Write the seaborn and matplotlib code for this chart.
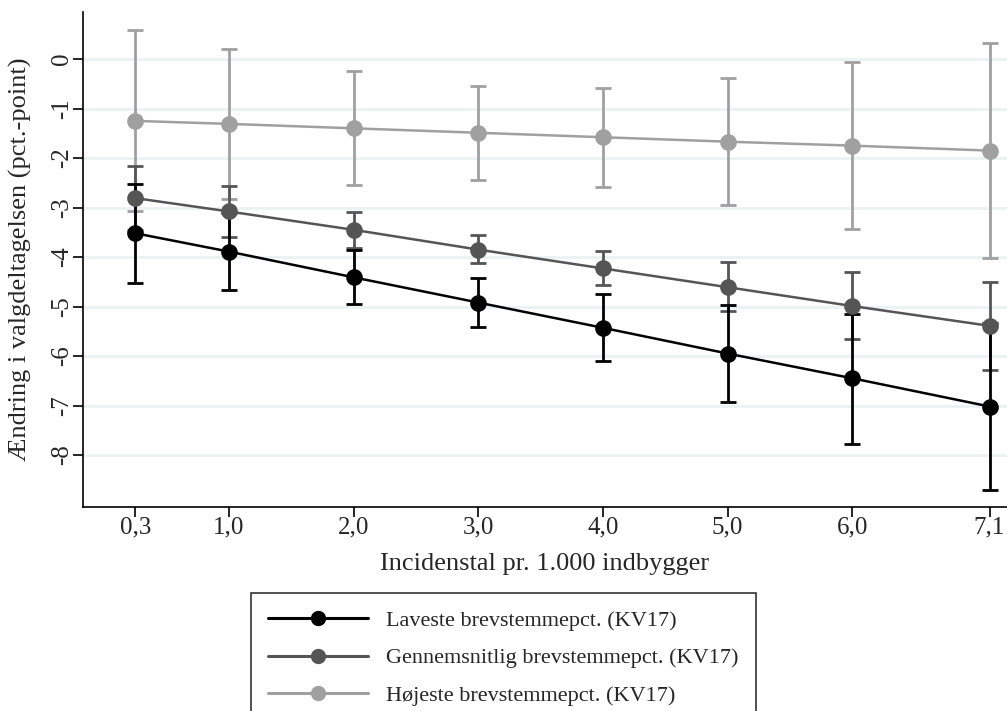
import numpy as np
import pandas as pd
import seaborn as sns
import matplotlib.pyplot as plt

# incidence per 1,000 inhabitants (tick labels rounded to one decimal)
x_vals = [0.25, 1.0, 2.0, 3.0, 4.0, 5.0, 6.0, 7.1]
x_labels = ["0,3", "1,0", "2,0", "3,0", "4,0", "5,0", "6,0", "7,1"]

groups = ["Laveste brevstemmepct. (KV17)",
          "Gennemsnitlig brevstemmepct. (KV17)",
          "Højeste brevstemmepct. (KV17)"]

# point estimates
low_est = [-3.52, -3.89, -4.41, -4.92, -5.43, -5.95, -6.45, -7.02]
mid_est = [-2.81, -3.08, -3.45, -3.85, -4.23, -4.61, -4.99, -5.39]
high_est = [-1.25, -1.31, -1.40, -1.49, -1.58, -1.67, -1.75, -1.85]

# confidence intervals (lower, upper)
low_lo = [-4.52, -4.67, -4.95, -5.41, -6.11, -6.92, -7.77, -8.71]
low_hi = [-2.53, -3.11, -3.86, -4.43, -4.75, -4.97, -5.15, -5.33]
mid_lo = [-3.46, -3.60, -3.82, -4.13, -4.57, -5.09, -5.66, -6.28]
mid_hi = [-2.16, -2.57, -3.10, -3.56, -3.88, -4.11, -4.31, -4.51]
high_lo = [-3.08, -2.83, -2.55, -2.44, -2.58, -2.94, -3.43, -4.01]
high_hi = [0.59, 0.21, -0.24, -0.55, -0.58, -0.39, -0.07, 0.32]

colors = ["#000000", "#555555", "#a0a0a0"]

df = pd.DataFrame({
    "x": x_vals * 3,
    "est": low_est + mid_est + high_est,
    "lo": low_lo + mid_lo + high_lo,
    "hi": low_hi + mid_hi + high_hi,
    "group": [g for g in groups for _ in x_vals],
})

sns.set_style("white")
plt.rcParams["font.family"] = ["Liberation Serif", "DejaVu Serif"]

fig = plt.figure(figsize=(10.07, 7.11), dpi=100)
ax = fig.add_axes([83 / 1007, 1 - 507 / 711, 1 - 83 / 1007, (507 - 12) / 711])

# draw lightest group first so black ends on top
for g, c, z in zip(groups[::-1], colors[::-1], [3, 4, 5]):
    d = df[df["group"] == g]
    ax.errorbar(d["x"], d["est"], yerr=[d["est"] - d["lo"], d["hi"] - d["est"]],
                fmt="none", ecolor=c, elinewidth=2, capsize=6, capthick=2, zorder=z)

sns.lineplot(data=df, x="x", y="est", hue="group", hue_order=groups,
             palette=colors, marker="o", markersize=12, markeredgewidth=0,
             linewidth=1.8, ax=ax, legend=False, zorder=6)

ax.set_xlim(-0.17, 7.24)
ax.set_ylim(-9.05, 0.95)
ax.set_xticks(x_vals)
ax.set_xticklabels(x_labels)
ax.set_yticks(range(-8, 1))
ax.set_yticklabels([str(v) for v in range(-8, 1)], rotation=90, va="center")
ax.tick_params(axis="both", direction="out", length=7, width=1.2, labelsize=18,
               color="black", bottom=True, left=True, pad=0)
ax.yaxis.grid(True, color="#eaf2f3", linewidth=2)
ax.set_axisbelow(True)
sns.despine(ax=ax, top=True, right=True)
for s in ["left", "bottom"]:
    ax.spines[s].set_color("black")
    ax.spines[s].set_linewidth(1.2)

ax.set_xlabel("Incidenstal pr. 1.000 indbygger", fontsize=19, labelpad=10)
ax.set_ylabel("Ændring i valgdeltagelsen (pct.-point)", fontsize=19, labelpad=14)

handles = [plt.Line2D([], [], color=c, marker="o", markersize=10, linewidth=2.2)
           for c in colors]
leg = fig.legend(handles, groups, loc="upper center", bbox_to_anchor=(0.5, 1 - 593 / 711),
                 fontsize=16, frameon=True, fancybox=False, edgecolor="black",
                 handlelength=4.5, handletextpad=0.8, labelspacing=0.77,
                 borderpad=0.77, borderaxespad=0)
leg.get_frame().set_linewidth(1.2)

fig.savefig("out.png", dpi=100)
